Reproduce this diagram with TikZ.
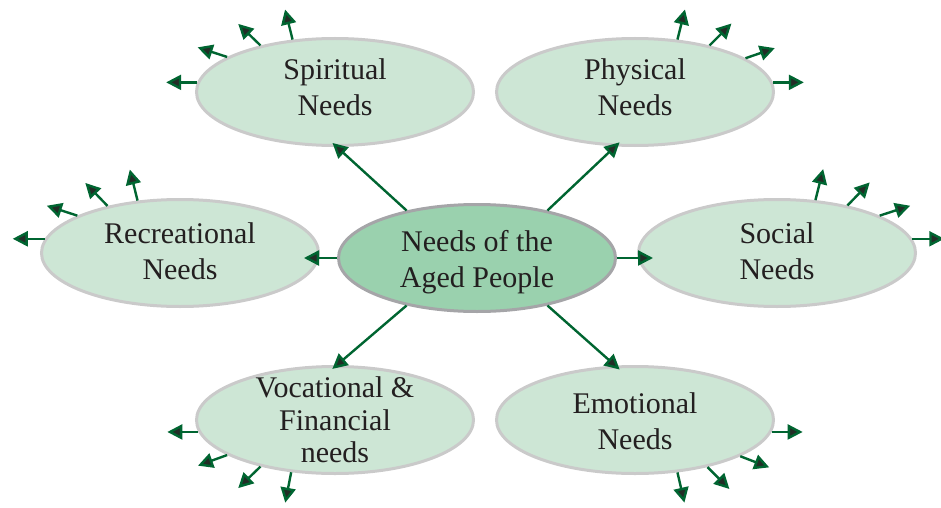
\documentclass[tikz,border=0pt]{standalone}
\usepackage{fontspec}
\setmainfont{Liberation Serif}
\usetikzlibrary{shapes.geometric,arrows.meta}

\definecolor{needfill}{RGB}{205,230,213}
\definecolor{agedfill}{RGB}{154,209,174}
\definecolor{needline}{RGB}{202,202,202}
\definecolor{agedline}{RGB}{165,165,168}
\definecolor{arrowgreen}{RGB}{0,101,49}
\definecolor{tipfill}{RGB}{35,45,38}
\definecolor{needtext}{RGB}{35,31,32}

\begin{document}
\begin{tikzpicture}[x=1pt,y=1pt,
    need/.style={ellipse, draw=needline, fill=needfill, line width=3pt,
        minimum width=277pt, minimum height=107pt},
    aged/.style={need, draw=agedline, fill=agedfill},
    needlabel/.style={align=center, inner sep=0pt, text=needtext, font=\fontsize{30}{36}\selectfont},
    arr/.style={draw=arrowgreen, line width=2.4pt,
        -{Triangle[length=15pt,width=15pt,fill=tipfill]}}]

\useasboundingbox (0,0) rectangle (941,507);

%besoins

\node[need] (sp) at (335,415) {};
\node[need] (ph) at (635,415) {};
\node[need] (rec) at (180,254) {};
\node[aged] (cen) at (477,249) {};
\node[need] (soc) at (777,254) {};
\node[need] (voc) at (335,87) {};
\node[need] (emo) at (635,87) {};

\node[needlabel] (sp-t) at ([yshift=5]sp) {Spiritual\\Needs};
\node[needlabel] (ph-t) at ([yshift=5]ph) {Physical\\Needs};
\node[needlabel] (rec-t) at ([yshift=2]rec) {Recreational\\Needs};
\node[needlabel] (cen-t) at ([yshift=-4]cen) {Needs of the\\Aged People};
\node[needlabel] (soc-t) at ([yshift=2]soc) {Social\\Needs};
\node[needlabel, font=\fontsize{30}{32.5}\selectfont] (voc-t) at (voc) {Vocational \&\\Financial\\needs};
\node[needlabel] (emo-t) at ([yshift=-1.5]emo) {Emotional\\Needs};

%flèches du centre

\draw[arr, shorten >=-6pt] (cen.146) -- (sp.272);
\draw[arr, shorten >=-6pt] (cen.34) -- (ph.250);
\draw[arr, shorten >=-16pt] (cen.west) -- (rec.east |- cen.west);
\draw[arr, shorten >=-16pt] (cen.east) -- (soc.west |- cen.east);
\draw[arr, shorten >=-6pt] (cen.214) -- (voc.88);
\draw[arr, shorten >=-6pt] (cen.326) -- (emo.110);

%petites flèches

\foreach \a/\d [count=\i] in {176/180,162/162,148/136,129/104}
    {\coordinate (sp-out\i) at ([shift={(\d:31)}]sp.\a); \draw[arr] (sp.\a) -- (sp-out\i);}
\foreach \a/\d [count=\i] in {51/76,32/45,17/19,4/0}
    {\coordinate (ph-out\i) at ([shift={(\d:31)}]ph.\a); \draw[arr] (ph.\a) -- (ph-out\i);}
\foreach \a/\d [count=\i] in {174/180,160/162,147/134,129/104}
    {\coordinate (rec-out\i) at ([shift={(\d:32)}]rec.\a); \draw[arr] (rec.\a) -- (rec-out\i);}
\foreach \a/\d [count=\i] in {54/76,34/46,20/18,6/0}
    {\coordinate (soc-out\i) at ([shift={(\d:32)}]soc.\a); \draw[arr] (soc.\a) -- (soc-out\i);}
\foreach \a/\d [count=\i] in {185/180,198/200,212/224,230/259}
    {\coordinate (voc-out\i) at ([shift={(\d:31)}]voc.\a); \draw[arr] (voc.\a) -- (voc-out\i);}
\foreach \a/\d [count=\i] in {355/0,341/339,327/315,309/283}
    {\coordinate (emo-out\i) at ([shift={(\d:31)}]emo.\a); \draw[arr] (emo.\a) -- (emo-out\i);}
\end{tikzpicture}
\end{document}
